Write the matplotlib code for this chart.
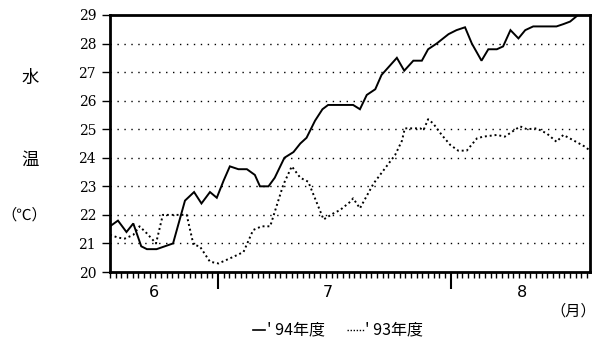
import matplotlib
matplotlib.use("Agg")
import matplotlib.pyplot as plt
from matplotlib.lines import Line2D

# water temperature, day index along the season
days_94 = [0, 1.4, 2.9, 4.1, 5.5, 6.5, 8.2, 11.1, 13.2, 14.8, 16.1, 17.6, 18.8,
           20.0, 21.1, 22.6, 24.1, 25.5, 26.4, 27.9, 29.0, 30.7, 32.3, 33.5,
           34.6, 36.1, 37.4, 38.4, 42.8, 44.0, 45.2, 46.7, 47.8, 48.7, 50.5,
           51.8, 53.4, 54.9, 56.0, 57.5, 59.6, 61.0, 62.5, 63.7, 65.4, 66.6,
           68.1, 69.2, 70.5, 71.9, 73.1, 74.5, 78.6, 79.8, 81.0, 82.4, 84.5]
temp_94 = [21.6, 21.8, 21.4, 21.7, 20.9, 20.8, 20.8, 21.0, 22.5, 22.8, 22.4,
           22.8, 22.6, 23.2, 23.7, 23.6, 23.6, 23.4, 23.0, 23.0, 23.3, 24.0,
           24.2, 24.5, 24.7, 25.3, 25.7, 25.85, 25.85, 25.7, 26.2, 26.4, 26.9,
           27.1, 27.5, 27.05, 27.4, 27.4, 27.8, 28.0, 28.33, 28.47, 28.57,
           28.0, 27.4, 27.8, 27.8, 27.9, 28.47, 28.18, 28.47, 28.6, 28.6,
           28.68, 28.77, 29.0, 29.2]

days_93 = [0, 1.5, 2.6, 4.1, 5.2, 6.5, 8.1, 9.3, 13.5, 14.7, 15.8, 17.6, 19.1,
           21.7, 23.5, 25.2, 26.7, 28.2, 30.5, 32.0, 33.5, 34.9, 37.6, 39.3,
           40.5, 42.3, 42.8, 44.0, 46.4, 50.2, 51.4, 51.9, 54.6, 55.2, 56.0,
           56.9, 58.4, 59.9, 61.3, 62.8, 64.6, 65.7, 68.1, 69.5, 70.7, 72.2,
           73.4, 75.1, 76.9, 78.6, 79.8, 81.5, 83.6, 84.5]
temp_93 = [21.3, 21.2, 21.17, 21.3, 21.6, 21.35, 21.0, 22.0, 22.0, 20.95,
           20.9, 20.36, 20.3, 20.53, 20.7, 21.47, 21.6, 21.6, 23.05, 23.7,
           23.3, 23.16, 21.84, 22.05, 22.17, 22.46, 22.58, 22.23, 23.1, 24.1,
           24.6, 25.03, 25.03, 24.97, 25.35, 25.2, 24.8, 24.45, 24.25, 24.25,
           24.68, 24.74, 24.8, 24.74, 24.9, 25.1, 25.0, 25.03, 24.85, 24.56,
           24.8, 24.62, 24.39, 24.25]

month_pos = [7.7, 38.4, 72.5]
month_labels = ["6", "7", "8"]
major_days = [19, 60]
yticks = list(range(20, 30))

CJK = ["Noto Sans CJK JP", "DejaVu Sans"]

fig = plt.figure(figsize=(5.95, 3.5), dpi=100)
ax = fig.add_axes([110 / 595, 1 - 272 / 350, 480 / 595, 257 / 350])

ax.plot(days_94, temp_94, color="black", lw=1.4, solid_joinstyle="miter")
ax.plot(days_93, temp_93, color="black", lw=1.4, linestyle=(0, (1, 1.5)))

ax.set_xlim(0, 84.5)
ax.set_ylim(20, 29)

# dotted guides at each degree
for v in yticks[1:-1]:
    ax.axhline(v, color="black", lw=1.0, linestyle=(0, (1, 4)), zorder=0)

for s in ax.spines.values():
    s.set_linewidth(2.0)

ax.set_yticks(yticks)
ax.set_yticklabels([str(v) for v in yticks], family="DejaVu Serif",
                   fontsize=10)
ax.tick_params(axis="y", direction="out", length=6, width=1.0, pad=4)

ax.set_xticks(major_days)
ax.set_xticklabels([])
ax.set_xticks(range(0, 85), minor=True)
ax.tick_params(axis="x", which="major", direction="out", length=12, width=1.5)
ax.tick_params(axis="x", which="minor", direction="out", length=4, width=1.0)

for p, lab in zip(month_pos, month_labels):
    ax.text(p, -0.05, lab, transform=ax.get_xaxis_transform(),
            ha="center", va="top", fontsize=11.5, family="DejaVu Sans")

fig.text(573 / 595, 1 - 311 / 350, "（月）", ha="center", va="center",
         fontsize=11, family=CJK)

# vertical axis title
fig.text(30 / 595, 1 - 78 / 350, "水", ha="center", va="center",
         fontsize=12.5, family=CJK)
fig.text(30 / 595, 1 - 160 / 350, "温", ha="center", va="center",
         fontsize=12.5, family=CJK)
fig.text(24 / 595, 1 - 215 / 350, "（℃）", ha="center", va="center",
         fontsize=11, family=CJK)

# legend row
ly = 1 - 330 / 350
fig.add_artist(Line2D([253 / 595, 265 / 595], [ly, ly], color="black",
                      lw=1.2, transform=fig.transFigure))
fig.text(267 / 595, ly, "' 94年度", ha="left", va="center", fontsize=11.5,
         family=CJK)
fig.add_artist(Line2D([347 / 595, 364 / 595], [ly, ly], color="black",
                      lw=1.0, linestyle=(0, (1, 1.2)),
                      transform=fig.transFigure))
fig.text(365 / 595, ly, "' 93年度", ha="left", va="center", fontsize=11.5,
         family=CJK)

fig.savefig("out.png", dpi=100)
